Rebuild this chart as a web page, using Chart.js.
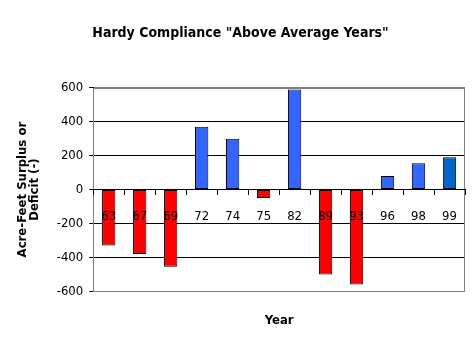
<!DOCTYPE html>
<html>
<head>
<meta charset="utf-8">
<script src="https://cdn.jsdelivr.net/npm/chart.js@4/dist/chart.umd.min.js"></script>
<style>
html,body{margin:0;padding:0;background:#fff;}
#wrap{width:476px;height:356px;position:relative;}
</style>
</head>
<body>
<div id="wrap"><canvas id="c" width="476" height="356"></canvas></div>
<script>
const years = ["63","67","69","72","74","75","82","89","93","96","98","99"];
const surplus = [-330,-380,-455,370,300,-50,590,-500,-560,80,155,190];
const barColors = ["#FF0000","#FF0000","#FF0000","#3366FF","#3366FF","#FF0000","#3366FF","#FF0000","#FF0000","#3366FF","#3366FF","#0066CC"];
const yTicks = [600,400,200,0,-200,-400,-600];

const FONT = "'DejaVu Sans Condensed', 'Liberation Sans', Arial, sans-serif";

const frame = {
  id: 'frame',
  beforeDatasetsDraw(chart) {
    const a = chart.chartArea, g = chart.ctx;
    g.save();
    g.strokeStyle = '#808080';
    g.lineWidth = 1;
    g.strokeRect(Math.round(a.left)+0.5, Math.round(a.top)+0.5, Math.round(a.right-a.left)-1, Math.round(a.bottom-a.top)-1);
    g.restore();
  }
};

new Chart(document.getElementById('c'), {
  type: 'bar',
  data: {
    labels: years,
    datasets: [{
      data: surplus,
      backgroundColor: barColors,
      borderColor: '#000',
      borderWidth: 1,
      borderSkipped: false,
      categoryPercentage: 1,
      barPercentage: 0.43
    }]
  },
  plugins: [frame],
  options: {
    responsive: false,
    animation: false,
    devicePixelRatio: 1,
    layout: { padding: { left: 16, right: 11, top: 0, bottom: 0 } },
    plugins: {
      legend: { display: false },
      tooltip: { enabled: false },
      title: {
        display: true,
        text: 'Hardy Compliance "Above Average Years"',
        color: '#000',
        font: { family: FONT, size: 14, weight: 'bold' },
        padding: { top: 25, bottom: 46 }
      },
      subtitle: {
        display: true,
        position: 'bottom',
        fullSize: false,
        text: 'Year',
        color: '#000',
        font: { family: FONT, size: 13, weight: 'bold' },
        padding: { top: 21, bottom: 28 }
      }
    },
    scales: {
      x: {
        position: { y: 0 },
        offset: true,
        grid: { display: true, drawOnChartArea: false, drawTicks: true, tickLength: 5, tickColor: '#000', offset: true, z: 1 },
        border: { display: true, color: '#000', width: 1, z: 1 },
        ticks: { z: 1, color: '#000', padding: 14, font: { family: FONT, size: 13 }, maxRotation: 0, autoSkip: false }
      },
      y: {
        min: -600,
        max: 600,
        afterBuildTicks(scale) { scale.ticks = yTicks.map(v => ({ value: v })); },
        grid: {
          color: (c) => (Math.abs(c.tick.value) === 600 ? '#808080' : '#000'),
          tickColor: '#000',
          tickLength: 4
        },
        border: { display: true, color: '#000' },
        ticks: { color: '#000', padding: 6, font: { family: FONT, size: 13 } },
        title: {
          display: true,
          text: ['Acre-Feet Surplus or', 'Deficit (-)'],
          color: '#000',
          font: { family: FONT, size: 13, weight: 'bold', lineHeight: 0.95 },
          padding: { top: 0, bottom: 10 }
        }
      }
    }
  }
});
</script>
</body>
</html>
